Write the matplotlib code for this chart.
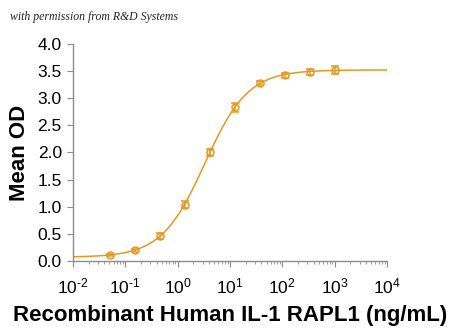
import numpy as np
import matplotlib as mpl
mpl.use('Agg')
import matplotlib.pyplot as plt
from matplotlib.ticker import LogLocator, FixedLocator

# measured points (ng/mL, mean OD, sd)
conc = [0.0508, 0.152, 0.457, 1.37, 4.12, 12.3, 37.0, 111.0, 333.0, 1000.0]
od = [0.11, 0.20, 0.46, 1.04, 2.00, 2.83, 3.28, 3.42, 3.48, 3.52]
sd = [0.02, 0.03, 0.06, 0.06, 0.06, 0.09, 0.04, 0.05, 0.05, 0.07]

# 4PL fit parameters
fit_bottom = 0.07
fit_top = 3.52
fit_ec50 = 3.3
fit_hill = 1.05

xtick_exp = [-2, -1, 0, 1, 2, 3, 4]
yticks = [0.0, 0.5, 1.0, 1.5, 2.0, 2.5, 3.0, 3.5, 4.0]

col = '#E8981F'
grey = '#8c8c8c'
plt.rcParams['font.family'] = ['Liberation Sans', 'DejaVu Sans']
plt.rcParams['mathtext.fontset'] = 'custom'
plt.rcParams['mathtext.rm'] = 'Liberation Sans'
plt.rcParams['mathtext.default'] = 'regular'

fig = plt.figure(figsize=(4.5, 3.3), dpi=100)
ax = fig.add_axes([0.162, 0.209, 0.698, 0.658])

xc = np.logspace(-2, 4, 400)
yc = fit_bottom + (fit_top - fit_bottom) / (1 + (fit_ec50 / xc) ** fit_hill)
ax.plot(xc, yc, color=col, lw=1.1)
ax.errorbar(conc, od, yerr=sd, fmt='o', ms=5, mfc='none', mec=col, mew=1.1,
            ecolor=col, elinewidth=1.1, capsize=3, capthick=1.1)

ax.set_xscale('log')
ax.set_xlim(1e-2, 1e4)
ax.set_ylim(0, 4)
ax.set_yticks(yticks)
ax.set_yticklabels(['%.1f' % v for v in yticks])
ax.xaxis.set_major_locator(FixedLocator([10.0 ** k for k in xtick_exp]))
ax.set_xticklabels(['$10^{\\text{%d}}$' % k for k in xtick_exp])
ax.xaxis.set_minor_locator(LogLocator(base=10, subs=np.arange(2, 10)))

for s in ['top', 'right']:
    ax.spines[s].set_visible(False)
for s in ['left', 'bottom']:
    ax.spines[s].set_color(grey)
    ax.spines[s].set_linewidth(1.0)
ax.tick_params(axis='both', which='major', direction='out', color=grey,
               length=4, labelsize=12.5, pad=4)
ax.tick_params(axis='x', which='minor', direction='out', color=grey, length=2)
ax.tick_params(axis='x', which='major', pad=7)

ax.set_ylabel('Mean OD', fontsize=16, fontweight='bold', labelpad=5)
ax.set_xlabel('Recombinant Human IL-1 RAPL1 (ng/mL)', fontsize=16,
              fontweight='bold', labelpad=6)

fig.text(0.022, 0.94, 'with permission from R&D Systems', fontsize=8.5,
         family='Liberation Serif', style='italic', color='#222222')

fig.savefig('out.png', dpi=100)
